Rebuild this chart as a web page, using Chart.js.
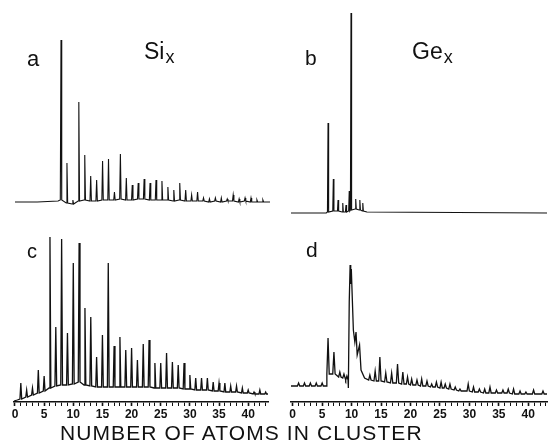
<!DOCTYPE html>
<html>
<head>
<meta charset="utf-8">
<script src="https://cdn.jsdelivr.net/npm/chart.js@4.4.0/dist/chart.umd.min.js"></script>
<style>
  body { margin: 0; width: 549px; height: 448px; background: #fff; position: relative; overflow: hidden;
         font-family: "Liberation Sans", Arial, sans-serif; color: #111; }
  canvas { position: absolute; }
  .lbl { position: absolute; line-height: 1; white-space: nowrap; }
  .sub { font-size: 18px; position: relative; top: 4px; margin-left: 1px; }
</style>
</head>
<body>
<canvas id="chartA" width="255" height="174" style="left:15px;top:32px"></canvas>
<canvas id="chartB" width="256" height="206" style="left:291px;top:10px"></canvas>
<canvas id="chartC" width="270" height="192" style="left:4px;top:230px"></canvas>
<canvas id="chartD" width="268" height="192" style="left:281px;top:230px"></canvas>

<div class="lbl" style="left:27px;top:48px;font-size:22px">a</div>
<div class="lbl" style="left:144px;top:40px;font-size:23px">Si<span class="sub">x</span></div>
<div class="lbl" style="left:305px;top:47px;font-size:21px">b</div>
<div class="lbl" style="left:412px;top:40px;font-size:23px">Ge<span class="sub">x</span></div>
<div class="lbl" style="left:27px;top:241px;font-size:20px">c</div>
<div class="lbl" style="left:306px;top:239px;font-size:21px">d</div>
<div class="lbl" style="left:60px;top:422px;font-size:21px;letter-spacing:1.1px">NUMBER OF ATOMS IN CLUSTER</div>

<script>
// a: Si_x (upper)   n = cluster size, peak = top of spike, base = level under it
const aN    = [0.25, 4, 7.5, 8, 9, 10, 11, 12, 13, 14, 15, 16, 17, 18, 19, 20, 21, 22, 23, 24, 25,
               26, 27, 28, 29, 30, 31, 32, 33, 34, 35, 36, 37, 38, 39, 40, 41, 42, 43.2];
const aPeak = [null, null, null, 162, 39, 2, 100, 47, 26, 22, 41, 43, 10, 48, 24, 17, 19, 23, 19, 22, 21,
               15, 12, 19, 12, 7, 10, 4, 3, 4, 4, 3, 7, 3, 4, 4, 2, 2, null];
const aBase = [0, 0, 1, 2, -1, -2, 1, 2, 1, 1, 2, 2, 2, 3, 2, 2, 3, 3, 2, 2, 2,
               2, 1, 2, 1, 1, 1, 1, 0, 1, 0, 1, 1, 0, 1, 0, 0, 0, 0];

// b: Ge_x (upper)
const bN    = [-0.29, 5.7, 6.0, 6.9, 7.7, 8.5, 9.05, 9.6, 9.9, 10.7, 11.4, 11.9, 12.6, 43.18];
const bPeak = [null, null, 90, 34, 13, 10, 8, 22, 200, 14, 13, 10, null, null];
const bBase = [0, 0, 1, 2, 2, 1, 1, 2, 3, 4, 3, 2, 1, 0];

// c: Si_x (lower)
const cN    = [-0.17, 0.4, 1, 2, 3, 4, 5, 6, 7, 8, 9, 10, 11, 12, 13, 14, 15, 16, 17, 18, 19, 20, 21, 22,
               23, 24, 25, 26, 27, 28, 29, 30, 31, 32, 33, 34, 35, 36, 37, 38, 39, 40, 41, 42, 43, 43.4];
const cPeak = [null, null, 19, 12, 14, 32, 26, 165, 75, 163, 69, 139, 159, 94, 85, 45, 67, 139, 56, 65, 52, 54, 42, 58,
               62, 39, 39, 49, 40, 37, 39, 27, 24, 24, 24, 20, 19, 19, 16, 16, 14, 12, 10, 12, 10, null];
const cBase = [1, 2, 3, 5, 7, 9, 11, 14, 16, 17, 17, 18, 20, 17, 16, 15, 15, 15, 15, 15, 15, 15, 15, 15,
               15, 14, 14, 14, 14, 14, 13, 13, 12, 12, 12, 11, 11, 10, 10, 10, 9, 9, 8, 8, 8, 8];

// d: Ge_x (lower)
const dN    = [-0.29, 1, 2, 3, 4, 5, 5.7, 6, 7, 8, 8.7, 9.2, 9.45, 9.6, 9.75, 9.85, 9.95, 10.3, 10.55, 10.75,
               10.95, 11.35, 11.6, 12.2, 13.1, 14, 14.8, 15.8, 16.8, 17.8, 18.7, 19.5, 20.2, 21.1, 21.9, 22.8,
               23.6, 24.4, 25.2, 25.9, 26.7, 27.6, 28.4, 29.8, 30.7, 31.7, 32.6, 33.5, 34.6, 35.7, 36.6, 37.5,
               38.6, 39.6, 40.9, 42.5, 43.18];
const dPeak = [null, 19, 19, 19, 19, 19, null, 64, 50, 30, 28, 26, null, null, null, null, null, null, null, null,
               null, null, null, null, 27, 31, 45, 29, 29, 38, 30, 25, 23, 22, 23, 21,
               18, 20, 20, 18, 18, 15, 13, 18, 15, 13, 13, 15, 12, 12, 13, 13,
               11, 10, 12, 11, null];
const dBase = [16, 16, 16, 16, 16, 16, 16, 28, 28, 25, 24, 22, 14, 100, 137, 118, 133, 72, 60, 70,
               47, 57, 32, 24, 22, 21, 21, 20, 19, 19, 18, 18, 17, 17, 16, 16,
               15, 15, 14, 14, 13, 12, 11, 11, 10, 10, 9, 9, 9, 9, 9, 8,
               8, 8, 8, 8, 8];

// spikes: base -> top -> base; null peak = plain trace vertex
function trace(n, peak, base, w) {
  const pts = [];
  n.forEach((x, i) => {
    if (peak[i] === null) { pts.push({ x, y: base[i] }); return; }
    pts.push({ x: x - w, y: base[i] }, { x, y: peak[i] }, { x: x + w, y: base[i] });
  });
  return pts;
}

function makeChart(id, pts, xr, yr, opts) {
  const withAxis = opts.axis;
  new Chart(document.getElementById(id), {
    type: "line",
    data: {
      datasets: [{
        data: pts,
        borderColor: "#111",
        borderWidth: opts.lw,
        pointRadius: 0,
        tension: 0,
        fill: false,
        clip: false,
      }],
    },
    options: {
      responsive: false,
      animation: false,
      layout: { padding: opts.pad },
      plugins: { legend: { display: false }, tooltip: { enabled: false } },
      scales: {
        x: {
          type: "linear",
          min: xr[0],
          max: xr[1],
          display: withAxis,
          afterFit: (scale) => { scale.height = withAxis ? 20 : 0; },
          border: { display: true, color: "#111", width: 1.6 },
          grid: {
            drawOnChartArea: false,
            drawTicks: true,
            tickLength: 4,
            tickColor: "#111",
            tickWidth: (ctx) => (ctx.tick && ctx.tick.value % 5 === 0 ? 1.6 : 1),
          },
          ticks: {
            stepSize: 1,
            autoSkip: false,
            maxRotation: 0,
            includeBounds: false,
            padding: 1,
            color: "#111",
            font: { family: "Liberation Sans", size: 12, weight: "bold" },
            callback: (v) => (v % 5 === 0 ? String(v) : ""),
          },
        },
        y: { min: yr[0], max: yr[1], display: false },
      },
    },
  });
}

makeChart("chartA", trace(aN, aPeak, aBase, 0.12), [0.25, 43.2], [-4, 170], { axis: false, lw: 1.1, pad: 0 });
makeChart("chartB", trace(bN, bPeak, bBase, 0.1), [-0.29, 43.18], [-3, 203], { axis: false, lw: 1.1, pad: 0 });
makeChart("chartC", trace(cN, cPeak, cBase, 0.15), [-0.17, 43.4], [0, 172],
  { axis: true, lw: 1.3, pad: { left: 10, right: 6, top: 0, bottom: 0 } });
makeChart("chartD", trace(dN, dPeak, dBase, 0.2), [-0.29, 43.18], [0, 172],
  { axis: true, lw: 1.3, pad: { left: 10, right: 2, top: 0, bottom: 0 } });
</script>
</body>
</html>
